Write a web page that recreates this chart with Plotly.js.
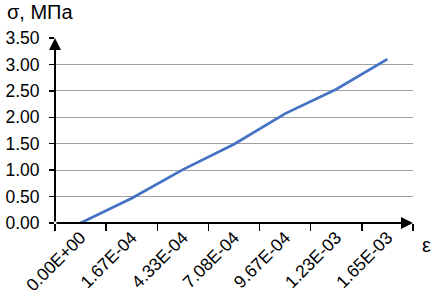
<!DOCTYPE html>
<html>
<head>
<meta charset="utf-8">
<script src="https://cdn.plot.ly/plotly-3.0.1.min.js"></script>
<style>html,body{margin:0;padding:0;background:#fff;}#chart{width:433px;height:304px;}</style>
</head>
<body>
<div id="chart"></div>
<script>
const strainLabels = ["0.00E+00", "1.67E-04", "4.33E-04", "7.08E-04", "9.67E-04", "1.23E-03", "1.65E-03"];
const stressValues = [0, 0.47, 1.01, 1.49, 2.07, 2.53, 3.10];
const yTicks = [0, 0.5, 1, 1.5, 2, 2.5, 3, 3.5];
const yTickText = ["0.00", "0.50", "1.00", "1.50", "2.00", "2.50", "3.00", "3.50"];

const FONT = "Liberation Sans, Arial, sans-serif";
const n = strainLabels.length;

const trace = {
  x: strainLabels,
  y: stressValues,
  type: "scatter",
  mode: "lines",
  line: {color: "#4472C4", width: 2.75},
  hoverinfo: "skip"
};

const layout = {
  width: 433,
  height: 304,
  margin: {l: 55, r: 20, t: 38, b: 81},
  paper_bgcolor: "#ffffff",
  plot_bgcolor: "#ffffff",
  showlegend: false,
  font: {family: FONT, size: 17, color: "#000"},
  xaxis: {
    type: "category",
    categoryorder: "array",
    categoryarray: strainLabels,
    range: [-0.5, n - 0.5],
    tickson: "boundaries",
    ticks: "outside",
    ticklen: 7,
    tickwidth: 1.5,
    tickcolor: "#000",
    tickangle: -45,
    showgrid: false,
    zeroline: false,
    showline: false,
    tickfont: {family: FONT, size: 17.5, color: "#000"},
    fixedrange: true
  },
  yaxis: {
    range: [0, 3.5],
    tickvals: yTicks,
    ticktext: yTickText,
    ticks: "outside",
    ticklen: 5,
    tickwidth: 1.5,
    tickcolor: "#000",
    showgrid: true,
    gridcolor: "#a0a0a0",
    gridwidth: 1,
    zeroline: false,
    showline: false,
    ticklabelstandoff: 6,
    tickfont: {family: FONT, size: 17.5, color: "#000"},
    fixedrange: true
  },
  annotations: [
    {xref: "x", yref: "y", axref: "x", ayref: "y", x: n - 0.5, y: 0, ax: -0.5, ay: 0,
     text: "", showarrow: true, arrowhead: 2, arrowsize: 1.2, arrowwidth: 2, arrowcolor: "#000", standoff: 0, startstandoff: 0},
    {xref: "x", yref: "y", axref: "x", ayref: "y", x: -0.5, y: 3.5, ax: -0.5, ay: 0,
     text: "", showarrow: true, arrowhead: 2, arrowsize: 1.2, arrowwidth: 2, arrowcolor: "#000", standoff: 0, startstandoff: 0},
    {xref: "paper", yref: "paper", x: -0.14, y: 1.0, yshift: 26, xanchor: "left", yanchor: "middle",
     text: "σ, МПа", showarrow: false, font: {family: FONT, size: 20, color: "#000"}},
    {xref: "paper", yref: "paper", x: 1.0, y: 0, xshift: 13, yshift: -22, xanchor: "center", yanchor: "middle",
     text: "ε", showarrow: false, font: {family: FONT, size: 20, color: "#000"}}
  ]
};

Plotly.newPlot("chart", [trace], layout, {staticPlot: true, displayModeBar: false});
</script>
</body>
</html>
